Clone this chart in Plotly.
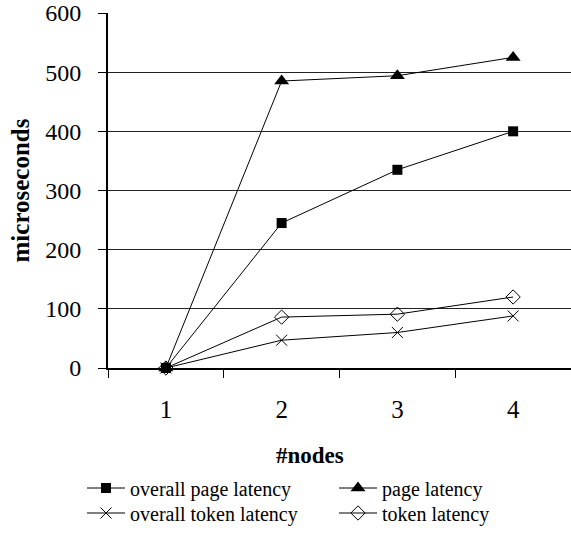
import plotly.graph_objects as go

nodes = ["1", "2", "3", "4"]
overall_page_latency = [0, 245, 335, 400]
page_latency = [0, 485, 494, 525]
overall_token_latency = [0, 47, 60, 88]
token_latency = [0, 86, 91, 120]
y_ticks = [0, 100, 200, 300, 400, 500, 600]

FONT = "Liberation Serif"
PLOT_L, PLOT_W, PLOT_B, PLOT_H = 108, 463, 368, 355

fig = go.Figure()
series = [
    ("overall page latency", overall_page_latency,
     dict(symbol="square", size=10, color="black"), "legend", 82, 488),
    ("page latency", page_latency,
     dict(symbol="triangle-up", size=13, color="black"), "legend2", 334, 488),
    ("overall token latency", overall_token_latency,
     dict(symbol="x-thin-open", size=11, color="black", line=dict(color="black", width=1)),
     "legend3", 82, 513),
    ("token latency", token_latency,
     dict(symbol="diamond-open", size=11, color="black", line=dict(color="black", width=1)),
     "legend4", 334, 513),
]
legends = {}
for name, vals, mk, lg, lx, ly in series:
    fig.add_trace(go.Scatter(
        x=nodes, y=vals, name=name, mode="lines+markers",
        line=dict(color="black", width=1), marker=mk, cliponaxis=False,
        legend=lg,
    ))
    legends[lg] = dict(
        orientation="h", x=(lx - PLOT_L) / PLOT_W, xanchor="left",
        y=-(ly - PLOT_B) / PLOT_H, yanchor="middle",
        font=dict(family=FONT, size=20, color="black"),
        itemwidth=38, bgcolor="rgba(0,0,0,0)",
    )

fig.update_layout(
    width=571, height=552,
    margin=dict(l=PLOT_L, r=0, t=13, b=184),
    paper_bgcolor="white", plot_bgcolor="white",
    font=dict(family=FONT, color="black", size=22),
    showlegend=True,
    **legends,
    xaxis=dict(
        type="category", range=[-0.5, 3.5], tickson="boundaries",
        ticks="outside", ticklen=8, tickcolor="black", tickwidth=1,
        showline=True, linecolor="black", linewidth=2,
        showgrid=False, zeroline=False, automargin=False,
        tickfont=dict(family=FONT, size=25), ticklabelstandoff=18,
    ),
    yaxis=dict(
        range=[0, 600], tickvals=y_ticks, ticks="outside", ticklen=8,
        tickcolor="black", tickwidth=1,
        showline=True, linecolor="black", linewidth=2,
        showgrid=True, gridcolor="#222222", gridwidth=1, zeroline=False,
        automargin=False,
        tickfont=dict(family=FONT, size=24), ticklabelstandoff=12,
        title=dict(text="<b>microseconds</b>", font=dict(family=FONT, size=25), standoff=8),
    ),
    annotations=[dict(
        text="<b>#nodes</b>", xref="paper", yref="paper",
        x=(310 - PLOT_L) / PLOT_W, y=-(455 - PLOT_B) / PLOT_H,
        xanchor="center", yanchor="middle",
        showarrow=False, font=dict(family=FONT, size=23, color="black"),
    )],
)

fig.write_html("out.html", config={"displayModeBar": False},
               post_script="document.body.style.margin='0';")
